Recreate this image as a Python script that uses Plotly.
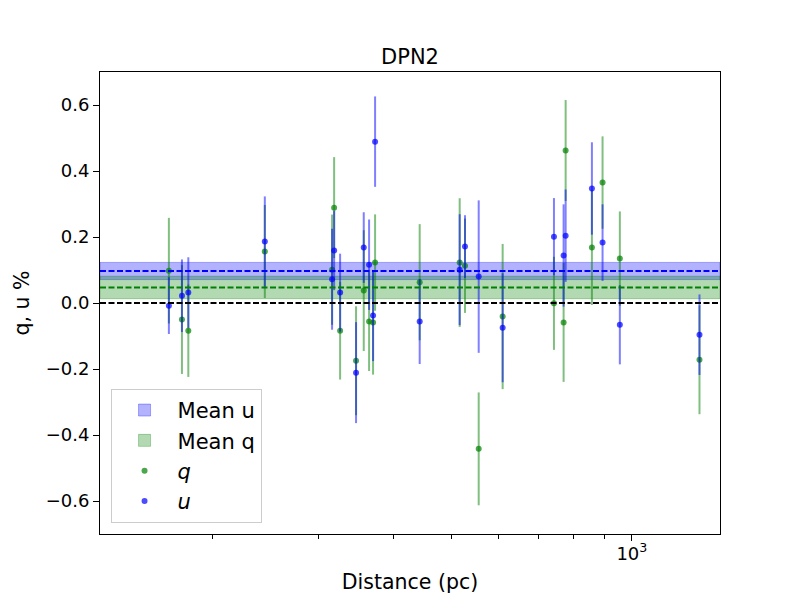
import plotly.graph_objects as go

# distances (pc) and polarisation values
distance = [169.1, 177.8, 182.2, 244.4, 316.4, 318.9, 326.3, 346.9, 357.3, 364.7,
            370.3, 373.2, 442.9, 516.4, 527.0, 555.5, 609.0, 741.6, 769.6, 775.6,
            857.9, 893.7, 955.0, 1296.6]
q = [0.098, -0.050, -0.084, 0.156, 0.101, 0.289, -0.084, -0.175, 0.0375, -0.056,
     -0.059, 0.1225, 0.063, 0.1225, 0.113, -0.442, -0.041, -0.001, -0.059, 0.462,
     0.168, 0.365, 0.1345, -0.172]
q_err = [0.16, 0.165, 0.14, 0.141, 0.167, 0.153, 0.148, 0.165, 0.183, 0.15,
         0.158, 0.146, 0.176, 0.195, 0.143, 0.171, 0.22, 0.141, 0.18, 0.153,
         0.174, 0.14, 0.143, 0.165]
u = [-0.008, 0.022, 0.0315, 0.186, 0.072, 0.159, 0.0315, -0.211, 0.168, 0.116,
     -0.038, 0.489, -0.056, 0.101, 0.171, 0.080, -0.075, 0.201, 0.144, 0.204,
     0.347, 0.183, -0.066, -0.096]
u_err = [0.086, 0.11, 0.107, 0.137, 0.153, 0.12, 0.118, 0.153, 0.107, 0.137,
         0.138, 0.137, 0.129, 0.168, 0.095, 0.231, 0.165, 0.117, 0.155, 0.14,
         0.14, 0.116, 0.12, 0.122]

mean_u, sigma_u = 0.097, 0.026
mean_q, sigma_q = 0.047, 0.034

font = "DejaVu Sans"

fig = go.Figure()

fig.add_trace(go.Scatter(
    x=distance, y=q, mode="markers", name="<i>q</i>", legendrank=3,
    marker=dict(color="rgba(0,128,0,0.7)", size=6),
    error_y=dict(type="data", array=q_err, color="rgba(0,128,0,0.5)",
                 thickness=2, width=0),
))
fig.add_trace(go.Scatter(
    x=distance, y=u, mode="markers", name="<i>u</i>", legendrank=4,
    marker=dict(color="rgba(0,0,255,0.7)", size=6),
    error_y=dict(type="data", array=u_err, color="rgba(0,0,255,0.5)",
                 thickness=2, width=0),
))

# mean bands
fig.add_shape(type="rect", xref="paper", x0=0, x1=1,
              y0=mean_u - sigma_u, y1=mean_u + sigma_u,
              fillcolor="rgba(0,0,255,0.3)", line=dict(color="rgba(0,0,255,0.3)", width=1),
              layer="below", showlegend=True, name="Mean u", legendrank=1)
fig.add_shape(type="rect", xref="paper", x0=0, x1=1,
              y0=mean_q - sigma_q, y1=mean_q + sigma_q,
              fillcolor="rgba(0,128,0,0.3)", line=dict(color="rgba(0,128,0,0.3)", width=1),
              layer="below", showlegend=True, name="Mean q", legendrank=2)

# dashed reference lines
for yv, col in [(mean_u, "blue"), (mean_q, "green"), (0.0, "black")]:
    fig.add_shape(type="line", xref="paper", x0=0, x1=1, y0=yv, y1=yv,
                  line=dict(color=col, width=2, dash="6px,2.5px"), layer="above")

# page body adds 8px offset, so the figure is sized to fit the 800x600 window
fig.update_layout(
    width=792, height=592,
    paper_bgcolor="white", plot_bgcolor="white",
    font=dict(family=font, size=18, color="black"),
    margin=dict(l=92, r=80, t=64, b=66),
    title=dict(text="DPN2", x=0.5, xref="paper", y=1 - 49 / 592, yref="container",
               xanchor="center", yanchor="middle", font=dict(size=21)),
    legend=dict(x=0.017, y=0.024, xanchor="left", yanchor="bottom",
                bgcolor="rgba(255,255,255,0.8)", bordercolor="#cccccc", borderwidth=1,
                font=dict(size=21), itemwidth=56),
    showlegend=True,
)

fig.update_xaxes(
    type="log", range=[2.1133, 3.147], automargin=False,
    tickvals=[1000], ticktext=["10<sup>3</sup>"],
    ticks="outside", ticklen=6, tickcolor="black", ticklabelstandoff=-3,
    minor=dict(tickvals=[200, 300, 400, 500, 600, 700, 800, 900],
               ticks="outside", ticklen=3.5, tickcolor="black", showgrid=False),
    showgrid=False, zeroline=False,
    showline=True, linecolor="black", linewidth=1, mirror=True,
    title=dict(text="Distance (pc)", standoff=12, font=dict(size=20.5)),
)
fig.update_yaxes(
    range=[-0.7, 0.7], automargin=False,
    tickvals=[-0.6, -0.4, -0.2, 0.0, 0.2, 0.4, 0.6], tickformat=".1f",
    ticks="outside", ticklen=6, tickcolor="black",
    showgrid=False, zeroline=False,
    showline=True, linecolor="black", linewidth=1, mirror=True,
    title=dict(text="q, u %", standoff=10, font=dict(size=20.5)),
)

fig.write_html("out.html")
